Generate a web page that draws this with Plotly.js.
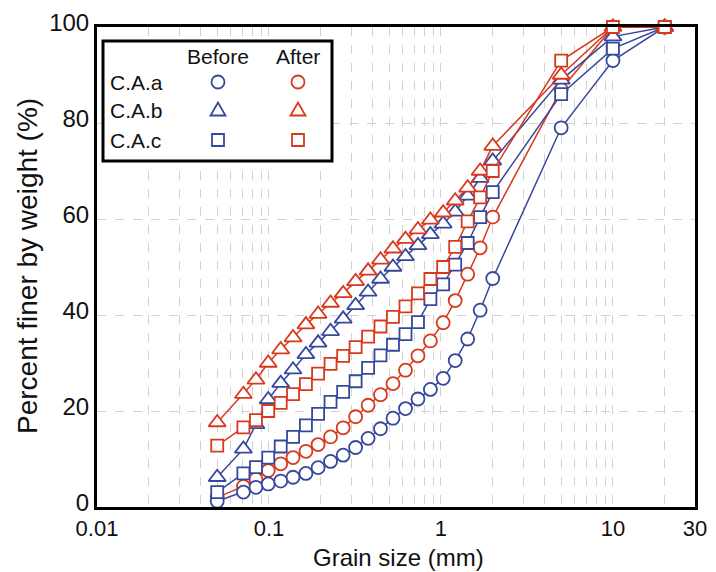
<!DOCTYPE html>
<html>
<head>
<meta charset="utf-8">
<script src="https://cdn.plot.ly/plotly-3.0.1.min.js"></script>
<style>
  html, body { margin: 0; padding: 0; background: #ffffff; }
  #chart { width: 716px; height: 572px; }
</style>
</head>
<body>
<div id="chart"></div>
<script>
// ---- Data ----
var grainSize = [0.05, 0.071, 0.084, 0.099, 0.117, 0.138, 0.164, 0.193, 0.228, 0.27, 0.319, 0.377, 0.445, 0.526, 0.622, 0.735, 0.868, 1.03, 1.21, 1.43, 1.69, 2, 5, 10, 20];

var caA_before = [1.2, 3.1, 4.1, 4.8, 5.4, 6.2, 7.0, 8.2, 9.5, 10.8, 12.4, 14.3, 16.3, 18.5, 20.5, 22.5, 24.5, 26.8, 30.5, 35.0, 41.0, 47.6, 79, 93, 100];
var caA_after  = [2.0, 4.3, 5.8, 7.6, 9.0, 10.3, 11.6, 13.0, 14.6, 16.5, 18.8, 21.2, 23.4, 25.7, 28.5, 31.5, 34.6, 38.4, 43.0, 48.5, 54.0, 60.4, 87, 100, 100];
var caB_before = [6.2, 12.1, 17.2, 22.4, 25.8, 28.6, 31.8, 34.2, 36.6, 39.2, 42.0, 44.8, 47.5, 50.0, 52.2, 54.5, 56.8, 59.0, 61.5, 64.8, 68.5, 72.1, 89, 98, 100];
var caB_after  = [17.6, 23.5, 26.5, 30.0, 32.8, 35.3, 38.0, 40.2, 42.5, 44.5, 47.0, 49.2, 51.5, 53.8, 55.8, 57.8, 59.8, 61.3, 63.8, 66.5, 70.0, 75.2, 90, 100, 100];
var caC_before = [3.1, 7.0, 8.3, 10.3, 12.6, 14.6, 17.0, 19.4, 21.9, 24.0, 26.2, 29.0, 31.6, 33.8, 36.0, 38.5, 43.3, 46.4, 50.5, 55.0, 60.4, 65.6, 86, 95.5, 100];
var caC_after  = [12.8, 16.6, 18.1, 20.0, 21.7, 23.5, 25.6, 27.8, 29.8, 31.5, 33.3, 35.5, 37.6, 39.6, 41.8, 44.5, 47.5, 50.0, 54.2, 59.5, 64.5, 70.0, 93, 100, 100];

var seriesNames = ["C.A.a", "C.A.b", "C.A.c"];
var columnNames = ["Before", "After"];
var xTickLabelVals = [0.01, 0.1, 1, 10, 30];
var xTickLabelText = ["0.01", "0.1", "1", "10", "30"];
var yTickVals = [0, 20, 40, 60, 80, 100];
var xTitle = "Grain size (mm)";
var yTitle = "Percent finer by weight (%)";

// ---- Styles ----
var BLUE = "#36489c";
var RED = "#d8391d";
var FONT = "Liberation Sans, Arial, sans-serif";

function trace(y, color, symbol, size) {
  return {
    x: grainSize, y: y, type: "scatter", mode: "lines+markers",
    line: {color: color, width: 1.5},
    marker: {symbol: symbol, size: size, color: "#ffffff", line: {color: color, width: 1.8}},
    cliponaxis: false, showlegend: false, hoverinfo: "skip"
  };
}

var data = [
  trace(caA_after, RED, "circle", 13),
  trace(caA_before, BLUE, "circle", 13),
  trace(caC_before, BLUE, "square", 12),
  trace(caB_before, BLUE, "triangle-up", 15),
  trace(caB_after, RED, "triangle-up", 15),
  trace(caC_after, RED, "square", 12)
];

// x gridlines at every 1..9 multiple; labels only on selected values
var xTickVals = [], xTickText = [];
[0.01, 0.1, 1, 10].forEach(function (d) {
  for (var m = 1; m <= 9; m++) {
    var v = +(d * m).toPrecision(3);
    if (v > 30) break;
    xTickVals.push(v);
    var idx = xTickLabelVals.indexOf(v);
    xTickText.push(idx >= 0 ? xTickLabelText[idx] : "");
  }
});

// ---- Legend drawn as a small table ----
var plotL = 97, plotR = 695, plotT = 27, plotB = 507;
function px(x) { return (x - plotL) / (plotR - plotL); }
function py(y) { return (plotB - y) / (plotB - plotT); }

var colX = [218, 298];
var rowY = [82, 110, 140];
var colColors = [BLUE, RED];

var shapes = [{
  type: "rect", xref: "paper", yref: "paper",
  x0: px(103), x1: px(332), y0: py(161), y1: py(41),
  line: {color: "#000000", width: 3}, fillcolor: "rgba(255,255,255,1)"
}];
var annotations = [];
columnNames.forEach(function (c, j) {
  annotations.push({xref: "paper", yref: "paper", x: px(colX[j]), y: py(56), text: c,
    showarrow: false, xanchor: "center", yanchor: "middle", font: {family: FONT, size: 21, color: "#111"}});
});
seriesNames.forEach(function (s, i) {
  annotations.push({xref: "paper", yref: "paper", x: px(108), y: py(rowY[i]), text: s,
    showarrow: false, xanchor: "left", yanchor: "middle", font: {family: FONT, size: 21, color: "#111"}});
  colX.forEach(function (cx, j) {
    var base = {xref: "paper", yref: "paper", xsizemode: "pixel", ysizemode: "pixel",
      xanchor: px(cx), yanchor: py(rowY[i]), line: {color: colColors[j], width: 1.8}, fillcolor: "rgba(0,0,0,0)"};
    var sh;
    if (i === 0) sh = Object.assign({type: "circle", x0: -6.5, x1: 6.5, y0: -6.5, y1: 6.5}, base);
    else if (i === 1) sh = Object.assign({type: "path", path: "M-7.5,-5.5 L7.5,-5.5 L0,7.5 Z"}, base);
    else sh = Object.assign({type: "rect", x0: -6, x1: 6, y0: -6, y1: 6}, base);
    shapes.push(sh);
  });
});

// axis titles placed as annotations for exact placement
annotations.push({xref: "paper", yref: "paper", x: px(398), y: py(557), text: xTitle,
  showarrow: false, xanchor: "center", yanchor: "middle", font: {family: FONT, size: 24, color: "#111"}});
annotations.push({xref: "paper", yref: "paper", x: px(27), y: py(266), text: yTitle, textangle: -90,
  showarrow: false, xanchor: "center", yanchor: "middle", font: {family: FONT, size: 28, color: "#111"}});

var gridStyle = {showgrid: true, gridcolor: "#d2d2d2", gridwidth: 1, griddash: "dash"};

var layout = {
  width: 716, height: 572,
  margin: {l: plotL, r: 716 - plotR, t: plotT, b: 572 - plotB},
  paper_bgcolor: "#ffffff", plot_bgcolor: "#ffffff",
  font: {family: FONT, color: "#000000"},
  xaxis: Object.assign({
    type: "log", range: [Math.log10(0.01), Math.log10(30)],
    tickmode: "array", tickvals: xTickVals, ticktext: xTickText,
    ticks: "", ticklen: 0, tickfont: {family: FONT, size: 22, color: "#111"},
    showline: true, linecolor: "#000", linewidth: 3, mirror: true, zeroline: false
  }, gridStyle),
  yaxis: Object.assign({
    range: [0, 100], tickmode: "array", tickvals: yTickVals,
    ticks: "", tickfont: {family: FONT, size: 24, color: "#111"}, ticklabelshift: -4,
    showline: true, linecolor: "#000", linewidth: 3, mirror: true, zeroline: false
  }, gridStyle),
  shapes: shapes,
  annotations: annotations
};

Plotly.newPlot("chart", data, layout, {staticPlot: true, displayModeBar: false});
</script>
</body>
</html>
